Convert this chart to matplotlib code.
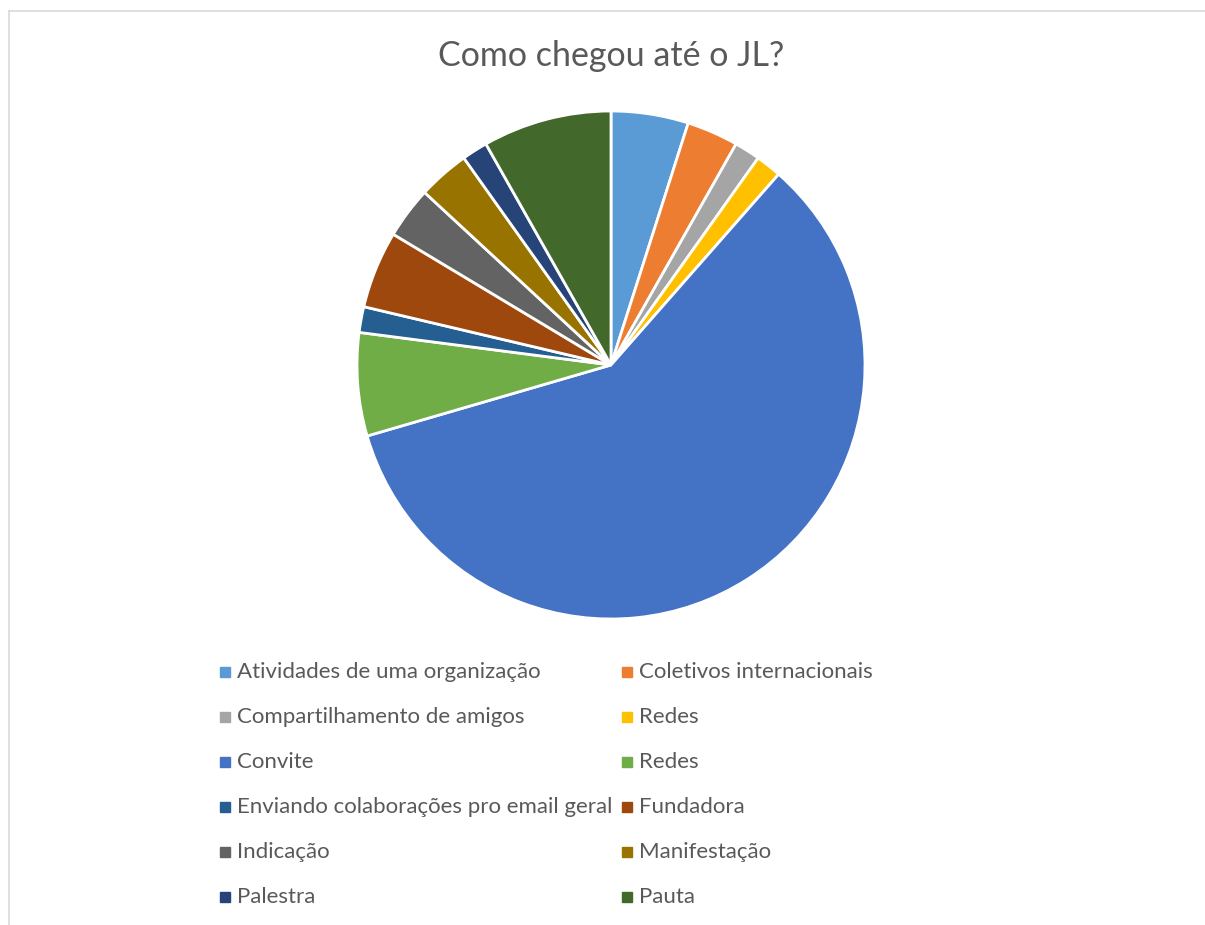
import matplotlib.pyplot as plt
from matplotlib.patches import Rectangle
from matplotlib.lines import Line2D

# data
labels = ["Atividades de uma organização", "Coletivos internacionais",
          "Compartilhamento de amigos", "Redes", "Convite", "Redes",
          "Enviando colaborações pro email geral", "Fundadora", "Indicação",
          "Manifestação", "Palestra", "Pauta"]
counts = [3, 2, 1, 1, 36, 4, 1, 3, 2, 2, 1, 5]
colors = ["#5B9BD5", "#ED7D31", "#A5A5A5", "#FFC000", "#4472C4", "#70AD47",
          "#255E91", "#9E480E", "#636363", "#997300", "#264478", "#43682B"]

W, H = 1205, 925
fig = plt.figure(figsize=(W / 100, H / 100), dpi=100)
plt.rcParams['font.family'] = ['Lato', 'DejaVu Sans']
txt = "#595959"

# pie, center (611, 365), radius 254 px
cx, cy, r = 611, 365, 254
ax = fig.add_axes([(cx - r) / W, (H - cy - r) / H, 2 * r / W, 2 * r / H])
ax.pie(counts, colors=colors, startangle=90, counterclock=False,
       wedgeprops=dict(edgecolor="white", linewidth=2))
ax.set_xlim(-1, 1)
ax.set_ylim(-1, 1)
ax.axis("off")

fig.text(611 / W, 1 - 56 / H, "Como chegou até o JL?", ha="center", va="center",
         fontsize=24.5, color=txt)

# legend, two columns filled row by row
for i, (lab, col) in enumerate(zip(labels, colors)):
    x = 220 if i % 2 == 0 else 622
    y = 672 + 45 * (i // 2)
    fig.patches.append(Rectangle((x / W, 1 - (y + 5) / H), 10 / W, 10 / H,
                                 transform=fig.transFigure, color=col))
    fig.text((x + 17) / W, 1 - y / H, lab, ha="left", va="center",
             fontsize=16, color=txt)

# chart border (top and left)
fig.add_artist(Line2D([8.5 / W, 1], [1 - 10.5 / H, 1 - 10.5 / H],
                      color="#D9D9D9", linewidth=1.2))
fig.add_artist(Line2D([8.5 / W, 8.5 / W], [0, 1 - 10.5 / H],
                      color="#D9D9D9", linewidth=1.2))

fig.savefig("out.png", dpi=100)
